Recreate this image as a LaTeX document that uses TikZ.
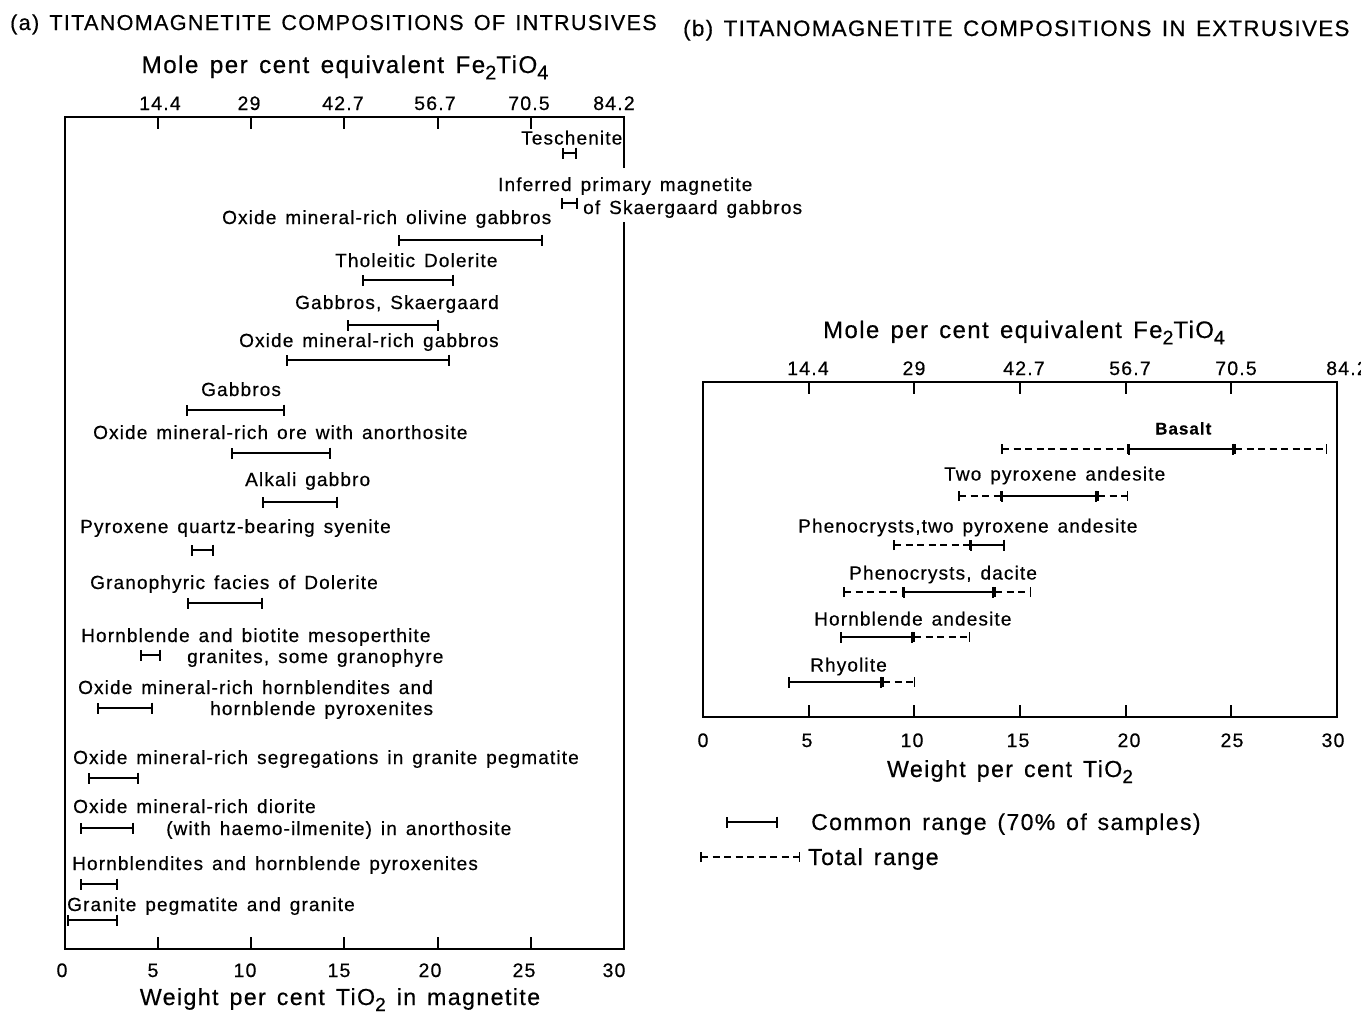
\documentclass[tikz,border=0pt]{standalone}
\usepackage{fontspec}
\setmainfont{Liberation Sans}[LetterSpace=6, WordSpace=1.4, FakeBold=0.5]
\usepackage{tikz}
\usetikzlibrary{arrows.meta}

\newcommand{\dn}[1]{\raisebox{-0.5ex}{\scalebox{0.82}{#1}}}

\begin{document}
\begin{tikzpicture}[
    x=1pt, y=-1pt,
    lbl/.style={anchor=base west, inner sep=0pt, font=\fontsize{19}{22}\selectfont},
    num/.style={anchor=base, inner sep=0pt, font=\fontsize{19.5}{23}\selectfont},
    axt/.style={anchor=base, inner sep=0pt, font=\fontsize{24.2}{28}\selectfont},
    wtt/.style={anchor=base, inner sep=0pt, font=\fontsize{23.2}{28}\selectfont},
    ttl/.style={anchor=base west, inner sep=0pt, font=\fontsize{21.6}{26}\selectfont},
    frame/.style={line width=1.9pt, line join=miter},
    tick/.style={line width=1.9pt},
    common/.style={line width=2.5pt, {Bar[width=11pt,line width=1.8pt]}-{Bar[width=11pt,line width=1.8pt]}},
    total/.style={line width=1.2pt, dash pattern=on 7pt off 4.5pt, {Bar[width=10pt,line width=1.5pt]}-{Bar[width=10pt,line width=1.5pt]}},
]
\useasboundingbox (0,0) rectangle (1361,1013);

% titles
\node[ttl] (ta) at (10,30) {(a) TITANOMAGNETITE COMPOSITIONS OF INTRUSIVES};
\node[ttl, font=\fontsize{22.3}{26}\selectfont] (tb) at (683,36) {(b) TITANOMAGNETITE COMPOSITIONS IN EXTRUSIVES};

% ---------- (a) intrusives ----------
\draw[frame] (624,168) -- (624,117) -- (65,117) -- (65,949) -- (624,949) -- (624,222);
\foreach \tx in {158,251,344,438,531} {
  \draw[tick] (\tx,117) -- ++(0,12);
  \draw[tick] (\tx,949) -- ++(0,-12);
}
\foreach \tx/\tv in {160/14.4, 249/29, 343/42.7, 435/56.7, 529/70.5, 614/84.2}
  \node[num] at (\tx,110) {\tv};
\foreach \tx/\tv in {62/0, 153/5, 245/10, 339/15, 430/20, 524/25, 614/30}
  \node[num] at (\tx,977) {\tv};
\node[axt] (molea) at (345,73) {Mole per cent equivalent Fe\dn{2}TiO\dn{4}};
\node[wtt] (wta) at (340,1005) {Weight per cent TiO\dn{2} in magnetite};

\node[lbl] (tesch) at (521,144.5) {Teschenite};
\node[lbl] (infer) at (498,191) {Inferred primary magnetite};
\node[lbl] (skaer) at (583,214) {of Skaergaard gabbros};
\node[lbl] (olgab) at (222,224) {Oxide mineral-rich olivine gabbros};
\node[lbl] (thol) at (335,267) {Tholeitic Dolerite};
\node[lbl] (gabsk) at (295,309) {Gabbros, Skaergaard};
\node[lbl] (oxgab) at (239,347) {Oxide mineral-rich gabbros};
\node[lbl] (gab) at (201,396) {Gabbros};
\node[lbl] (ore) at (93,439) {Oxide mineral-rich ore with anorthosite};
\node[lbl] (alk) at (245,486) {Alkali gabbro};
\node[lbl] (sye) at (80,533) {Pyroxene quartz-bearing syenite};
\node[lbl] (gran) at (90,589) {Granophyric facies of Dolerite};
\node[lbl] (meso) at (81,642) {Hornblende and biotite mesoperthite};
\node[lbl] (meso2) at (187,663) {granites, some granophyre};
\node[lbl] (hbl) at (78,694) {Oxide mineral-rich hornblendites and};
\node[lbl] (hbl2) at (210,715) {hornblende pyroxenites};
\node[lbl] (seg) at (73,764) {Oxide mineral-rich segregations in granite pegmatite};
\node[lbl] (dio) at (73,813) {Oxide mineral-rich diorite};
\node[lbl] (dio2) at (166,835) {(with haemo-ilmenite) in anorthosite};
\node[lbl] (hbp) at (72,870) {Hornblendites and hornblende pyroxenites};
\node[lbl] (peg) at (67,911) {Granite pegmatite and granite};

\foreach \by/\ba/\bb in {153/562/577, 203/561/578, 240/398/543, 280/362/454,
    325/347/439, 360/286/450, 410/186/285, 453/231/331, 502/262/338,
    550/191/214, 603/187/263, 655/140/161, 708/97/153, 778/88/139,
    828/80/134, 884/80/118, 920/67/118}
  \draw[common] (\ba,\by) -- (\bb,\by);

% ---------- (b) extrusives ----------
\draw[frame] (703,382) rectangle (1337,717);
\foreach \tx in {809,914,1020,1126,1231} {
  \draw[tick] (\tx,382) -- ++(0,12);
  \draw[tick] (\tx,717) -- ++(0,-12);
}
\foreach \tx/\tv in {808/14.4, 914/29, 1024/42.7, 1130/56.7, 1236/70.5, 1347/84.2}
  \node[num] at (\tx,375) {\tv};
\foreach \tx/\tv in {703/0, 807/5, 912/10, 1018/15, 1129/20, 1232/25, 1333/30}
  \node[num] at (\tx,747) {\tv};
\node[axt, font=\fontsize{23.9}{28}\selectfont] (moleb) at (1024,338) {Mole per cent equivalent Fe\dn{2}TiO\dn{4}};
\node[wtt] (wtb) at (1010,777) {Weight per cent TiO\dn{2}};

\node[lbl, font=\fontsize{17}{20}\selectfont\bfseries] (bas) at (1155,434.5) {Basalt};
\node[lbl] (twopx) at (944,480.5) {Two pyroxene andesite};
\node[lbl] (phpx) at (798,532.5) {Phenocrysts,two pyroxene andesite};
\node[lbl] (phdac) at (849,579.5) {Phenocrysts, dacite};
\node[lbl] (hband) at (814,625.5) {Hornblende andesite};
\node[lbl] (rhy) at (810,671.5) {Rhyolite};

\draw[total] (1001,449) -- (1128,449);
\draw[common] (1128,449) -- (1234,449);
\draw[total] (1234,449) -- (1327,449);
\draw[total] (958,496) -- (1001,496);
\draw[common] (1001,496) -- (1097,496);
\draw[total] (1097,496) -- (1128,496);
\draw[total] (893,545) -- (970,545);
\draw[common] (970,545) -- (1005,545);
\draw[total] (843,592) -- (903,592);
\draw[common] (903,592) -- (994,592);
\draw[total] (994,592) -- (1031,592);
\draw[common] (840,637) -- (913,637);
\draw[total] (913,637) -- (970,637);
\draw[common] (788,682) -- (882,682);
\draw[total] (882,682) -- (915,682);

% legend
\draw[common] (726,822) -- (778,822);
\node[lbl, font=\fontsize{23}{27}\selectfont] (lgc) at (811,830) {Common range (70\% of samples)};
\draw[total] (700,857) -- (800,857);
\node[lbl, font=\fontsize{23.2}{27}\selectfont] (lgt) at (808,865) {Total range};
\end{tikzpicture}
\end{document}
